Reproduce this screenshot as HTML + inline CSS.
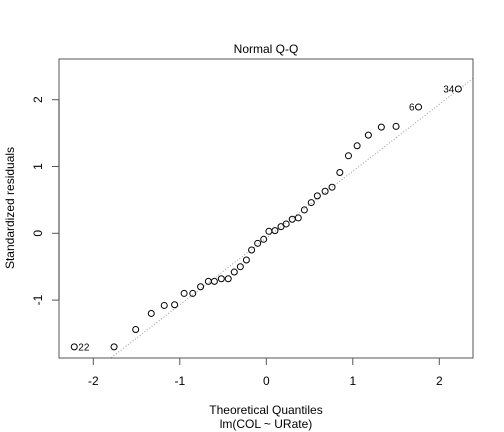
<!DOCTYPE html>
<html><head><meta charset="utf-8"><style>
html,body{margin:0;padding:0;background:#fff;}
svg{display:block;font-family:"Liberation Sans",sans-serif;}
</style></head><body>
<svg id="chart" width="504" height="432" viewBox="0 0 504 432" xmlns="http://www.w3.org/2000/svg">
<rect width="504" height="432" fill="#fff"/>
<text x="266" y="53" font-size="12" text-anchor="middle">Normal Q-Q</text>
<text x="266" y="414" font-size="12" text-anchor="middle">Theoretical Quantiles</text>
<text x="266" y="428" font-size="12" text-anchor="middle">lm(COL ~ URate)</text>
<text transform="translate(14,208) rotate(-90)" font-size="12" text-anchor="middle">Standardized residuals</text>
<g id="plot"></g>
</svg>
<script>
const theoretical = [-2.22,-1.76,-1.51,-1.33,-1.18,-1.06,-0.95,-0.85,-0.76,-0.67,-0.60,-0.52,-0.44,-0.37,-0.30,-0.23,-0.17,-0.10,-0.03,0.03,0.10,0.17,0.23,0.30,0.37,0.44,0.52,0.59,0.68,0.76,0.85,0.95,1.05,1.18,1.33,1.50,1.76,2.22];
const residuals = [-1.70,-1.70,-1.44,-1.20,-1.08,-1.07,-0.90,-0.90,-0.80,-0.72,-0.72,-0.68,-0.68,-0.58,-0.50,-0.40,-0.25,-0.15,-0.09,0.03,0.04,0.10,0.14,0.21,0.23,0.35,0.46,0.56,0.63,0.69,0.91,1.16,1.31,1.47,1.59,1.60,1.89,2.16];
const pointLabels = ["22","","","","","","","","","","","","","","","","","","","","","","","","","","","","","","","","","","","","6","34"];
const xTicks = [-2,-1,0,1,2];
const yTicks = [-1,0,1,2];
const refLine = [-0.07, 1.0]; // intercept, slope

const NS = "http://www.w3.org/2000/svg";
const L=59,R=473,T=59,B=358;
const xs = v => 266.3 + v*86.5;
const ys = v => 233.3 - v*66.8;
const g = document.getElementById('plot');
function mk(tag, attrs){const e=document.createElementNS(NS,tag);for(const k in attrs)e.setAttribute(k,attrs[k]);g.appendChild(e);return e;}

const cp = document.createElementNS(NS,'clipPath'); cp.setAttribute('id','clip');
const cr = document.createElementNS(NS,'rect'); cr.setAttribute('x',L);cr.setAttribute('y',T);cr.setAttribute('width',R-L);cr.setAttribute('height',B-T);
cp.appendChild(cr); g.appendChild(cp);
const x0=-3,x1=3;
const rl = mk('line',{x1:xs(x0),y1:ys(refLine[0]+refLine[1]*x0),x2:xs(x1),y2:ys(refLine[0]+refLine[1]*x1),stroke:'#999','stroke-width':1,'stroke-dasharray':'1,2','clip-path':'url(#clip)'});



const box = mk('rect',{x:L,y:T,width:R-L,height:B-T,fill:'none',stroke:'#555','stroke-width':1});



xTicks.forEach(t=>{
  const tl = mk('line',{x1:xs(t),x2:xs(t),y1:B,y2:B+7,stroke:'#555'});
  
  
  const tx = mk('text',{x:xs(t),y:385,'font-size':12,'text-anchor':'middle'});
  tx.textContent = t;
  
  
});
const ya = mk('line',{x1:L,x2:L,y1:ys(yTicks[0]),y2:ys(yTicks[yTicks.length-1]),stroke:'#333'});


yTicks.forEach(t=>{
  const tl = mk('line',{x1:L-7,x2:L,y1:ys(t),y2:ys(t),stroke:'#555'});
  
  
  const tx = mk('text',{transform:`translate(42,${ys(t)}) rotate(-90)`,'font-size':12,'text-anchor':'middle'});
  tx.textContent = t;
  
  
});

theoretical.forEach((v,i)=>{
  const c = mk('circle',{cx:xs(v),cy:ys(residuals[i]),r:3,fill:'none',stroke:'#000','stroke-width':1});
  
  
  if(pointLabels[i]){
    const left = v > 0;
    const tx = mk('text',{x:xs(v)+(left?-4:4),y:ys(residuals[i])+3.5,'font-size':10,'text-anchor':left?'end':'start'});
    tx.textContent = pointLabels[i];
    
    
  }
});
</script>
</body></html>
